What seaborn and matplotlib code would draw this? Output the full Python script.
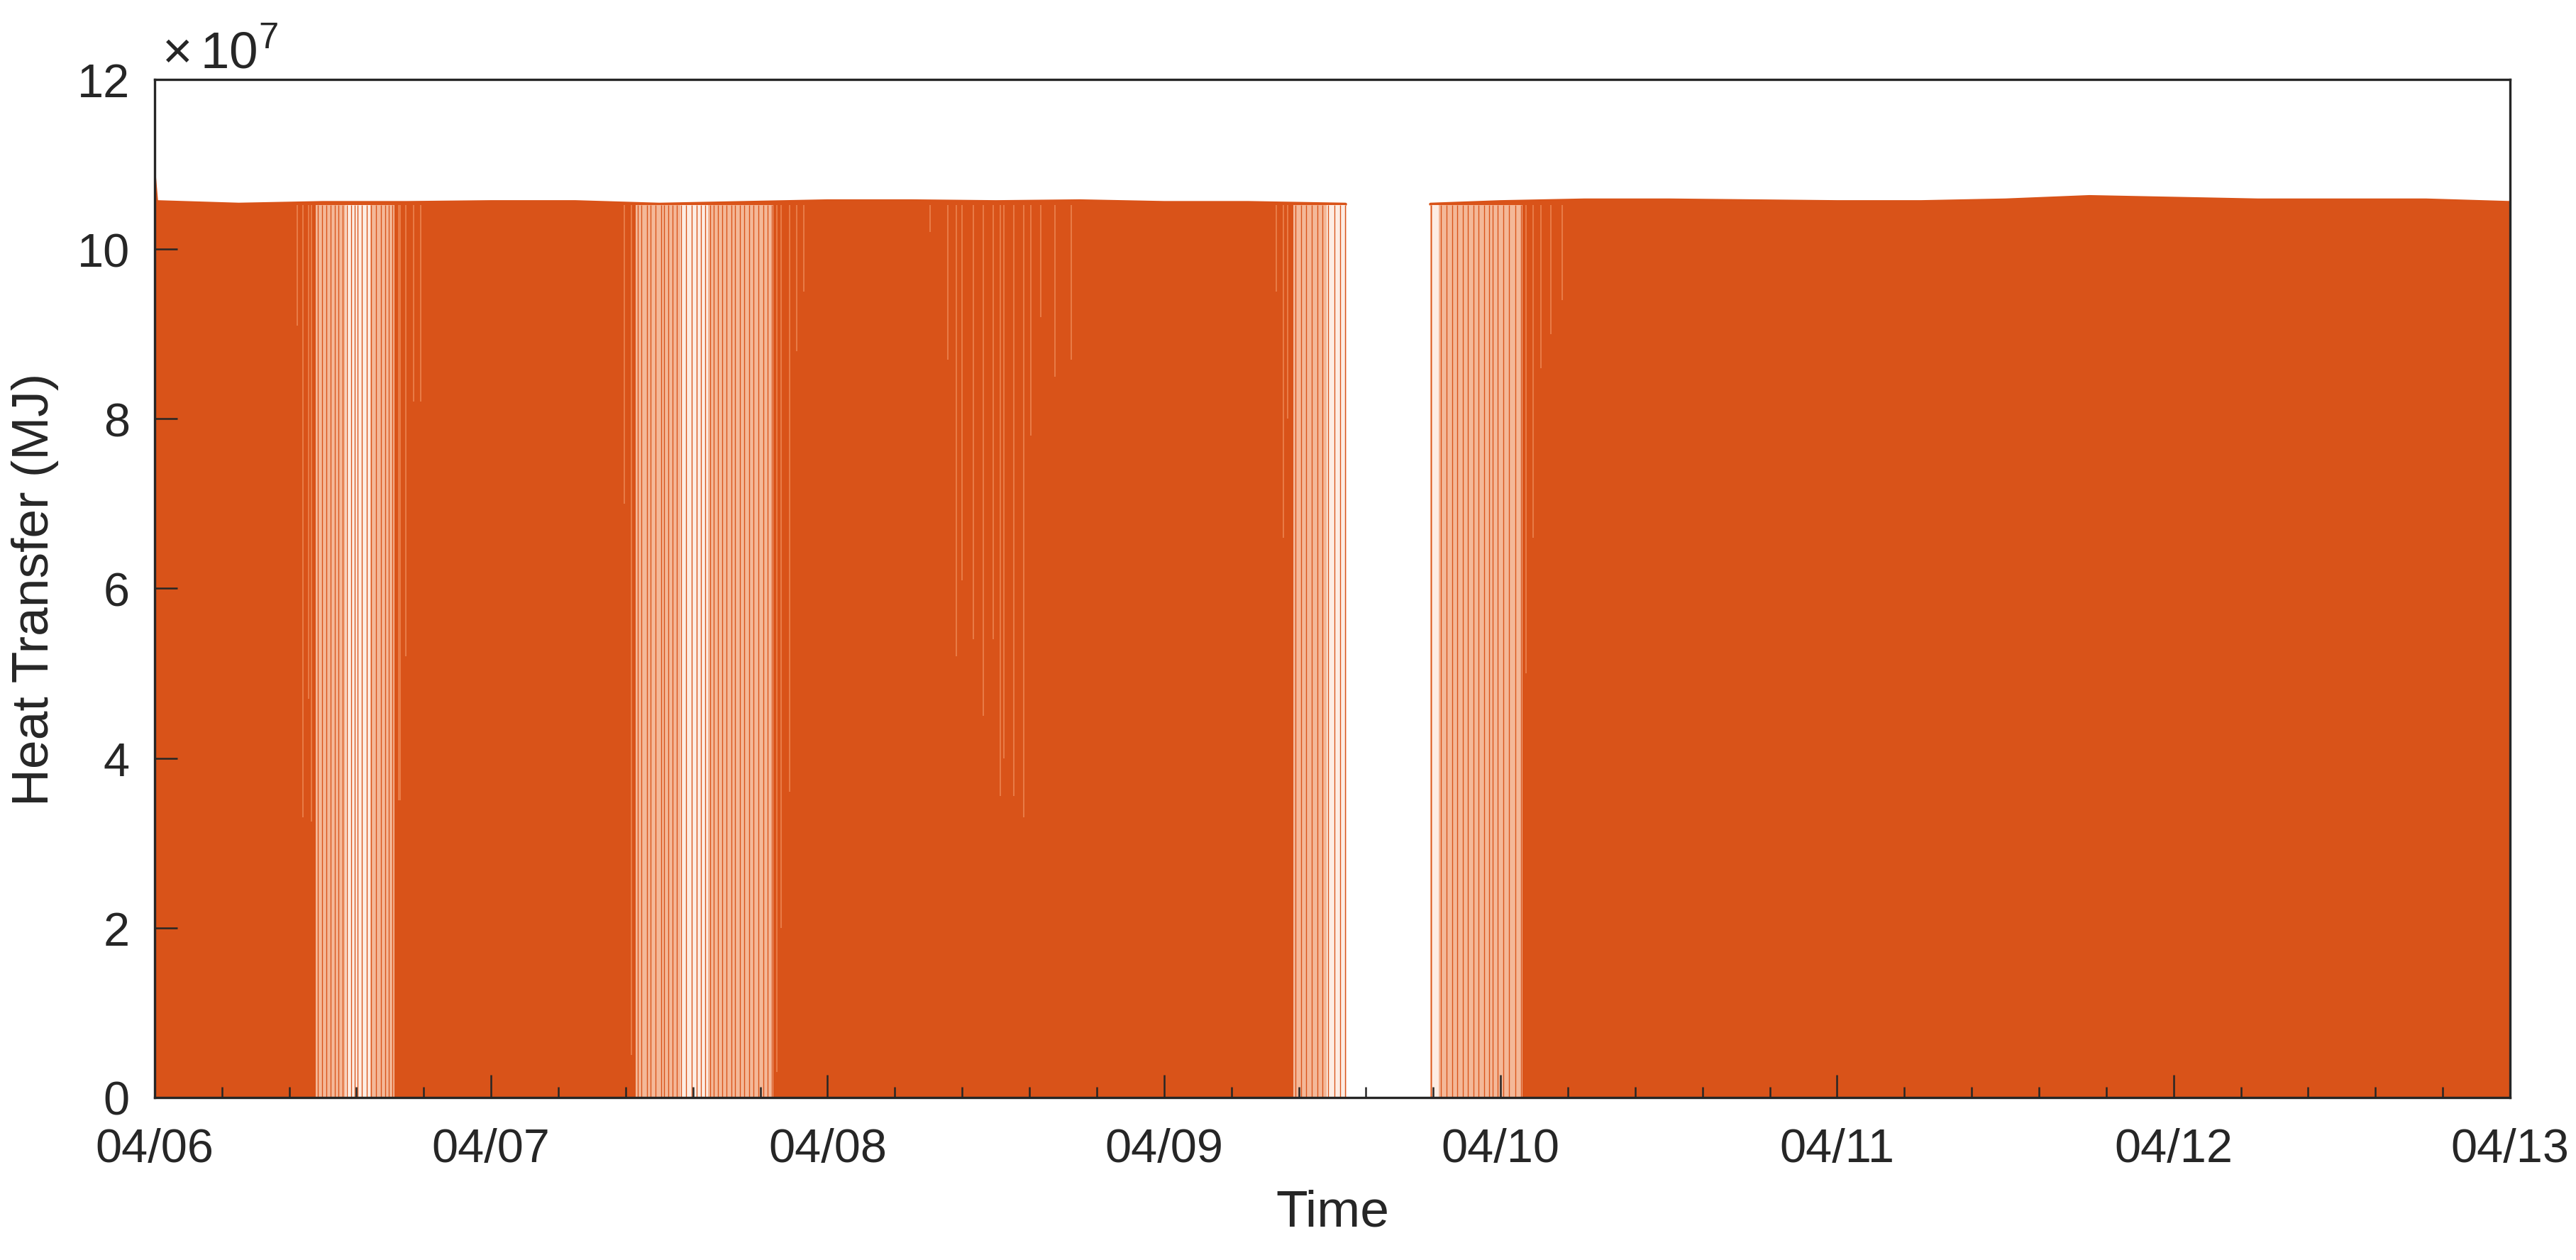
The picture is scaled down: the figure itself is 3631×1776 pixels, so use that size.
import numpy as np
import pandas as pd
import matplotlib
matplotlib.use('Agg')
import matplotlib.pyplot as plt
import seaborn as sns
from matplotlib.ticker import MultipleLocator, FuncFormatter

# eixo x em horas a partir de 04/06 00:00
day_labels = ['04/06', '04/07', '04/08', '04/09', '04/10', '04/11', '04/12', '04/13']

# envelope superior da serie (x1e7 MJ), antes e depois da parada de 04/09
env1_h = [0, 0.15, 6, 12, 18, 24, 30, 36, 42, 48, 54, 60, 66, 72, 78, 84.95]
env1_v = [10.85, 10.56, 10.53, 10.55, 10.55, 10.56, 10.56, 10.53, 10.55, 10.57,
          10.57, 10.56, 10.57, 10.55, 10.55, 10.53]
env2_h = [91.0, 96, 102, 108, 114, 120, 126, 132, 138, 144, 150, 156, 162, 168]
env2_v = [10.53, 10.56, 10.58, 10.58, 10.57, 10.56, 10.56, 10.58, 10.62, 10.60,
          10.58, 10.58, 10.58, 10.55]

# trechos com ciclos espacados (liga/desliga visivel)
sparse_start = [11.5, 34.3, 81.2, 91.0]
sparse_end = [17.1, 44.15, 84.95, 97.55]
core_start = [13.6, 37.5, 83.6, 91.15]
core_end = [15.4, 39.5, 84.95, 91.6]

spikes = [11.63, 11.93, 12.24, 12.54, 12.84, 13.10, 13.40, 13.70, 14.01, 14.26,
          14.46, 14.77, 15.12, 15.42, 15.78, 16.13, 16.44, 16.69, 16.94,
          34.49, 34.74, 35.10, 35.40, 35.75, 36.11, 36.36, 36.66, 36.97, 37.27,
          37.57, 37.93, 38.33, 38.69, 38.99, 39.29, 39.65, 39.90, 40.20, 40.51,
          40.81, 41.16, 41.42, 41.77, 42.07, 42.43, 42.73, 43.09, 43.44, 43.74,
          44.05,
          81.37, 81.77, 82.13, 82.53, 82.94, 83.29, 83.69, 84.15, 84.55, 84.91,
          91.03, 91.73, 92.14, 92.54, 92.90, 93.30, 93.66, 94.06, 94.41, 94.82,
          95.17, 95.42, 95.78, 96.18, 96.59, 97.04, 97.45]
spike_top = 10.52

# quedas parciais (hora, valor minimo x1e7)
dip_h = [10.2, 10.57, 10.97, 11.2, 17.4, 17.5, 17.9, 18.5, 19.0,
         33.5, 34.0, 44.4, 44.7, 45.3, 45.8, 46.3,
         55.3, 56.6, 57.2, 57.6, 58.4, 59.1, 59.8, 60.3, 60.6, 61.3, 62.0, 62.5,
         63.2, 64.2, 65.4,
         80.0, 80.5, 80.8, 97.8, 98.3, 98.9, 99.6, 100.4]
dip_v = [9.1, 3.3, 4.7, 3.25, 3.5, 3.5, 5.2, 8.2, 8.2,
         7.0, 0.5, 0.3, 2.0, 3.6, 8.8, 9.5,
         10.2, 8.7, 5.2, 6.1, 5.4, 4.5, 5.4, 3.55, 4.0, 3.55, 3.3, 7.8,
         9.2, 8.5, 8.7,
         9.5, 6.6, 8.0, 5.0, 6.6, 8.6, 9.0, 9.4]

orange = '#D95319'
band = '#F4B898'
core = '#FDEDE4'
light = '#EC8450'
ink = '#262626'

sns.set_theme(style='white')
plt.rcParams['font.family'] = ['Liberation Sans', 'DejaVu Sans']
plt.rcParams['mathtext.fontset'] = 'custom'
plt.rcParams['mathtext.rm'] = 'Liberation Sans'

fig = plt.figure(figsize=(3631 / 300, 1777 / 300), dpi=300)
ax = fig.add_axes([0.0600, 0.1289, 0.9144, 0.8075])
ax.set_axisbelow(False)

e1 = pd.DataFrame({'h': env1_h, 'v': np.array(env1_v) * 1e7})
e2 = pd.DataFrame({'h': env2_h, 'v': np.array(env2_v) * 1e7})
for e in (e1, e2):
    ax.fill_between(e['h'], 0, e['v'], color=orange, lw=0, zorder=1)
    sns.lineplot(data=e, x='h', y='v', ax=ax, color=orange, lw=1.0, zorder=1.1)

top = spike_top * 1e7
for s, f in zip(sparse_start, sparse_end):
    ax.axvspan(s, f, ymin=0, ymax=top / 12e7, color=band, lw=0, zorder=1.5)
for s, f in zip(core_start, core_end):
    ax.axvspan(s, f, ymin=0, ymax=top / 12e7, color=core, lw=0, zorder=1.6)

ax.vlines(spikes, 0, top, color=orange, lw=0.32, zorder=2)
ax.vlines(dip_h, np.array(dip_v) * 1e7, top, color=light, lw=0.4, zorder=2.1)

ax.set_xlim(0, 168)
ax.set_ylim(0, 12e7)
ax.set_xticks(np.arange(len(day_labels)) * 24)
ax.set_xticklabels(day_labels)
ax.xaxis.set_minor_locator(MultipleLocator(4.8))
ax.set_yticks(np.arange(0, 13, 2) * 1e7)
ax.yaxis.set_major_formatter(FuncFormatter(lambda v, p: f'{v / 1e7:g}'))

ax.tick_params(which='both', direction='in', bottom=True, left=True,
               top=False, right=False, color=ink, labelcolor=ink, width=0.6)
ax.tick_params(which='major', length=7.7, labelsize=16)
ax.tick_params(which='minor', length=3.6)
ax.tick_params(axis='x', pad=10)
ax.tick_params(axis='y', pad=8.4)
for sp in ax.spines.values():
    sp.set_color(ink)
    sp.set_linewidth(0.8)
    sp.set_zorder(3)

ax.text(0.003, 1.012, r'$\times\,10^{7}$', transform=ax.transAxes, fontsize=17.5,
        ha='left', va='baseline', color=ink)
ax.set_xlabel('Time', fontsize=17.6, color=ink, labelpad=5.9)
ax.set_ylabel('Heat Transfer (MJ)', fontsize=17.6, color=ink, labelpad=6.1)

fig.savefig('out.png', dpi=300)
